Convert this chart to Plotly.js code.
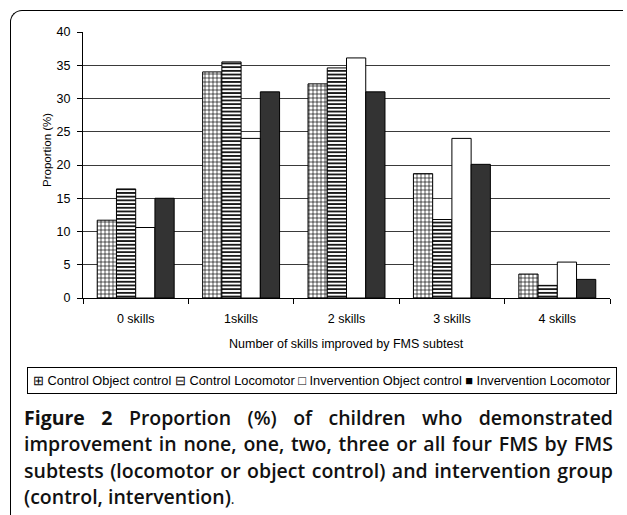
<!DOCTYPE html>
<html>
<head>
<meta charset="utf-8">
<script src="https://cdn.plot.ly/plotly-3.0.1.min.js"></script>
<style>
  html, body { margin: 0; padding: 0; background: #fff; }
  #wrap { position: relative; width: 627px; height: 515px; overflow: hidden; }
  #chart { position: absolute; left: 0; top: 0; width: 627px; height: 515px; }
  #frame { position: absolute; left: 10px; top: 10px; width: 612px; height: 520px;
           border-left: 1px solid #000; border-top: 1px solid #000; border-top-left-radius: 12px; }
  #caption { position: absolute; left: 24px; width: 589px; top: 405px;
             font-family: "Open Sans", "Noto Sans", sans-serif; font-size: 19.5px; line-height: 26.4px;
             font-weight: 600; color: #111; }
  #caption .ln { height: 26.4px; white-space: nowrap; text-align: justify; text-align-last: justify; }
  #caption .ln.last { text-align: left; text-align-last: left; }
  #caption .fig { font-weight: 700; }
  #caption .dot { font-weight: 400; font-size: 14px; }
</style>
</head>
<body>
<div id="wrap">
  <div id="frame"></div>
  <div id="chart"></div>
  <div id="caption"></div>
</div>
<script>
const categories = ['0 skills', '1skills', '2 skills', '3 skills', '4 skills'];
const seriesNames = ['Control Object control', 'Control Locomotor', 'Invervention Object control', 'Invervention Locomotor'];
const legendSymbols = ['\u229E', '\u229F', '\u25A1', '\u25A0'];
const controlObjectControl = [11.7, 34.0, 32.2, 18.7, 3.6];
const controlLocomotor = [16.4, 35.5, 34.6, 11.8, 1.9];
const interventionObjectControl = [10.6, 24.0, 36.1, 24.0, 5.4];
const interventionLocomotor = [15.0, 31.0, 31.0, 20.1, 2.8];
const yTickValues = [0, 5, 10, 15, 20, 25, 30, 35, 40];
const xTitle = 'Number of skills improved by FMS subtest';
const yTitle = 'Proportion (%)';
const captionLabel = 'Figure 2';
const captionLines = [
  'Proportion (%) of children who demonstrated',
  'improvement in none, one, two, three or all four FMS by FMS',
  'subtests (locomotor or object control) and intervention group',
  '(control, intervention)'
];

// caption (real text)
const cap = document.getElementById('caption');
captionLines.forEach((t, i) => {
  const d = document.createElement('div');
  d.className = 'ln' + (i === captionLines.length - 1 ? ' last' : '');
  if (i === 0) {
    const b = document.createElement('span'); b.className = 'fig'; b.textContent = captionLabel;
    d.appendChild(b);
    d.appendChild(document.createTextNode(' '));
  }
  const s = document.createElement('span'); s.textContent = t; d.appendChild(s);
  if (i === captionLines.length - 1) {
    const p = document.createElement('span'); p.className = 'dot'; p.textContent = '.'; d.appendChild(p);
  }
  cap.appendChild(d);
});

const seriesValues = [controlObjectControl, controlLocomotor, interventionObjectControl, interventionLocomotor];
const markers = [
  {color: '#fff', pattern: {shape: '+', size: 4, solidity: 0.3, fgcolor: '#000', bgcolor: '#fff', fillmode: 'replace'}, line: {color: '#000', width: 1}},
  {color: '#fff', pattern: {shape: '-', size: 3.7, solidity: 0.45, fgcolor: '#000', bgcolor: '#fff', fillmode: 'replace'}, line: {color: '#000', width: 1}},
  {color: '#ffffff', line: {color: '#000', width: 1}},
  {color: '#333333', line: {color: '#000', width: 1}}
];

const traces = seriesValues.map((vals, i) => ({
  type: 'bar', x: categories, y: vals, name: seriesNames[i],
  marker: markers[i], showlegend: false, hoverinfo: 'x+y+name'
}));

// plot area geometry (pixels)
const W = 627, H = 515, L = 83, R = 17, T = 32, B = 217;
const pw = W - L - R, ph = H - T - B;
const px = x => (x - L) / pw;
const py = y => (H - B - y) / ph;

const legendText = seriesNames.map((n, i) => legendSymbols[i] + ' ' + n).join(' ');

const layout = {
  width: W, height: H,
  margin: {l: L, r: R, t: T, b: B, pad: 0},
  paper_bgcolor: 'rgba(0,0,0,0)', plot_bgcolor: '#fff',
  font: {family: 'Arial, "Liberation Sans", sans-serif', size: 12, color: '#000'},
  barmode: 'group', bargap: 0.27, bargroupgap: 0,
  xaxis: {
    type: 'category', showline: true, linecolor: '#000', linewidth: 1,
    ticks: 'outside', ticklen: 5, tickcolor: '#000', tickwidth: 1, tickson: 'boundaries',
    showgrid: false, ticklabelstandoff: 9, tickfont: {size: 12.5, color: '#000'}
  },
  yaxis: {
    range: [0, 40], tickvals: yTickValues, showline: true, linecolor: '#000', linewidth: 1,
    ticks: 'outside', ticklen: 5, tickcolor: '#000', tickwidth: 1,
    showgrid: true, gridcolor: '#3a3a3a', gridwidth: 1, zeroline: false,
    ticklabelstandoff: 4, tickfont: {size: 12.5, color: '#000'}
  },
  annotations: [
    {text: xTitle, xref: 'paper', yref: 'paper', x: px(346), y: py(344), xanchor: 'center', yanchor: 'middle',
     showarrow: false, font: {size: 12.5, color: '#000'}},
    {text: yTitle, xref: 'paper', yref: 'paper', x: px(47), y: py(150), xanchor: 'center', yanchor: 'middle',
     textangle: -90, showarrow: false, font: {size: 11.5, color: '#000'}},
    {text: legendText, xref: 'paper', yref: 'paper', x: px(322), y: py(380), xanchor: 'center', yanchor: 'middle',
     showarrow: false, bordercolor: '#000', borderwidth: 1, borderpad: 5, bgcolor: '#fff',
     font: {size: 12.8, color: '#000'}}
  ]
};

Plotly.newPlot('chart', traces, layout, {displayModeBar: false, staticPlot: true});
</script>
</body>
</html>
